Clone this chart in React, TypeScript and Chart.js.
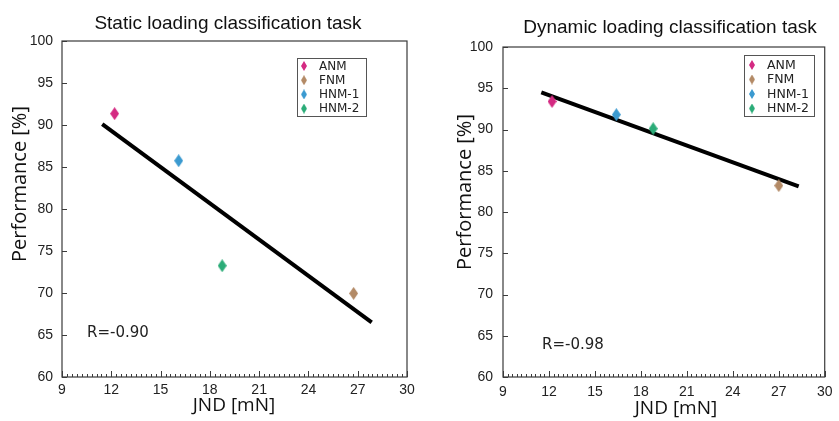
import React, { useEffect, useRef } from 'react';
import { Chart, registerables } from 'chart.js';

Chart.register(...registerables);

// ---------- data ----------
const groups = ['ANM', 'FNM', 'HNM-1', 'HNM-2'];
const groupColors = ['#d42a82', '#b38a66', '#3b9ad0', '#2bac78'];

const xTicks = [9, 12, 15, 18, 21, 24, 27, 30];
const yTicks = [60, 65, 70, 75, 80, 85, 90, 95, 100];

const staticJnd = [12.2, 26.75, 16.1, 18.75];
const staticPerf = [91.35, 69.95, 85.75, 73.25];
const staticFitJnd = [11.45, 27.85];
const staticFitPerf = [90.1, 66.5];
const staticR = 'R=-0.90';
const staticTitle = 'Static loading classification task';

const dynamicJnd = [12.2, 27.0, 16.4, 18.8];
const dynamicPerf = [93.4, 83.2, 91.8, 90.1];
const dynamicFitJnd = [11.5, 28.3];
const dynamicFitPerf = [94.5, 83.1];
const dynamicR = 'R=-0.98';
const dynamicTitle = 'Dynamic loading classification task';

const xTitle = 'JND [mN]';
const yTitle = 'Performance [%]';

// ---------- layout (positions only) ----------
type Layout = {
  left: number; width: number; height: number;
  plotLeft: number; plotRight: number; plotTop: number; plotBottom: number;
  yPad: number; xPad: number;
  titleX: number; titleY: number;
  xTitleX: number; xTitleY: number;
  yTitleX: number; yTitleY: number;
  rX: number; rY: number;
  legX: number; legY: number; legW: number; legH: number;
  legRow0: number; legDy: number; legMarkX: number; legTextX: number; legFont: number;
};

const leftLayout: Layout = {
  left: 0, width: 420, height: 421,
  plotLeft: 62, plotRight: 407, plotTop: 41, plotBottom: 377,
  yPad: 9, xPad: 4.5,
  titleX: 228, titleY: 28.5,
  xTitleX: 234, xTitleY: 411,
  yTitleX: 26, yTitleY: 184,
  rX: 87, rY: 333,
  legX: 297, legY: 58, legW: 69, legH: 58,
  legRow0: 66, legDy: 14.2, legMarkX: 304, legTextX: 319, legFont: 12,
};

const rightLayout: Layout = {
  left: 420, width: 419, height: 421,
  plotLeft: 83, plotRight: 409, plotTop: 47, plotBottom: 377,
  yPad: 10, xPad: 6.5,
  titleX: 250, titleY: 33,
  xTitleX: 256, xTitleY: 414,
  yTitleX: 51, yTitleY: 192,
  rX: 122, rY: 345,
  legX: 324, legY: 55, legW: 70, legH: 61,
  legRow0: 65, legDy: 14.5, legMarkX: 332, legTextX: 347, legFont: 12.5,
};

function diamond(color: string, w: number, h: number): HTMLCanvasElement {
  const c = document.createElement('canvas');
  c.width = w;
  c.height = h;
  const ctx = c.getContext('2d')!;
  ctx.fillStyle = color;
  ctx.beginPath();
  ctx.moveTo(w / 2, 0);
  ctx.lineTo(w, h / 2);
  ctx.lineTo(w / 2, h);
  ctx.lineTo(0, h / 2);
  ctx.closePath();
  ctx.fill();
  return c;
}

function makeDecor(L: Layout, title: string, rText: string) {
  return {
    id: 'decor',
    afterDraw(chart: any) {
      const ctx: CanvasRenderingContext2D = chart.ctx;
      const ca = chart.chartArea;
      const xs = chart.scales.x;
      const ys = chart.scales.y;
      ctx.save();
      // frame
      ctx.strokeStyle = '#3a3a3a';
      ctx.lineWidth = 1.2;
      ctx.strokeRect(ca.left, ca.top, ca.right - ca.left, ca.bottom - ca.top);
      // y major ticks (inward)
      ctx.beginPath();
      yTicks.forEach((v) => {
        const py = Math.round(ys.getPixelForValue(v)) + 0.5;
        ctx.moveTo(ca.left, py);
        ctx.lineTo(ca.left + 5, py);
      });
      // x major + minor ticks
      const step = xTicks[1] - xTicks[0];
      const minor = step / 10;
      const n = Math.round((xTicks[xTicks.length - 1] - xTicks[0]) / minor);
      for (let k = 0; k <= n; k++) {
        const v = xTicks[0] + k * minor;
        const px = Math.round(xs.getPixelForValue(v)) + 0.5;
        const len = k % 10 === 0 ? 6 : 3;
        ctx.moveTo(px, ca.bottom);
        ctx.lineTo(px, ca.bottom - len);
      }
      ctx.lineWidth = 1;
      ctx.stroke();

      // title
      ctx.fillStyle = '#111';
      ctx.font = '19px "Liberation Sans", Arial, sans-serif';
      ctx.textAlign = 'center';
      ctx.textBaseline = 'alphabetic';
      ctx.fillText(title, L.titleX, L.titleY);

      // axis titles
      ctx.font = '19px "Open Sans", sans-serif';
      ctx.fillText(xTitle, L.xTitleX, L.xTitleY);
      ctx.save();
      ctx.translate(L.yTitleX, L.yTitleY);
      ctx.rotate(-Math.PI / 2);
      ctx.font = '20px "Open Sans", sans-serif';
      ctx.fillText(yTitle, 0, 0);
      ctx.restore();

      // R text
      ctx.font = '15px "DejaVu Sans", sans-serif';
      ctx.textAlign = 'left';
      ctx.textBaseline = 'middle';
      ctx.fillStyle = '#222';
      ctx.fillText(rText, L.rX, L.rY);

      // legend
      ctx.fillStyle = '#fff';
      ctx.fillRect(L.legX, L.legY, L.legW, L.legH);
      ctx.strokeStyle = '#555';
      ctx.lineWidth = 1;
      ctx.strokeRect(L.legX + 0.5, L.legY + 0.5, L.legW, L.legH);
      ctx.font = `${L.legFont}px "DejaVu Sans", sans-serif`;
      groups.forEach((g, i) => {
        const y = L.legRow0 + i * L.legDy;
        const m = diamond(groupColors[i], 6, 10);
        ctx.drawImage(m, L.legMarkX - 3, y - 5);
        ctx.fillStyle = '#222';
        ctx.fillText(g, L.legTextX, y + 0.5);
      });
      ctx.restore();
    },
  };
}

function Panel({ L, jnd, perf, fitX, fitY, title, rText }: {
  L: Layout; jnd: number[]; perf: number[]; fitX: number[]; fitY: number[]; title: string; rText: string;
}) {
  const ref = useRef<HTMLCanvasElement>(null);
  useEffect(() => {
    const canvas = ref.current!;
    const pointDatasets = groups.map((g, i) => ({
      label: g,
      data: [{ x: jnd[i], y: perf[i] }],
      pointStyle: diamond(groupColors[i], 9, 13) as any,
      backgroundColor: groupColors[i],
      borderColor: groupColors[i],
      pointRadius: 6,
      showLine: false,
    }));
    const fitDataset = {
      label: 'fit',
      data: fitX.map((x, i) => ({ x, y: fitY[i] })),
      showLine: true,
      borderColor: '#000',
      borderWidth: 4,
      pointRadius: 0,
      borderCapStyle: 'butt' as const,
      backgroundColor: '#000',
    };
    const fontTicks = { family: '"Liberation Sans", Arial, sans-serif', size: 14 };
    const chart = new Chart(canvas, {
      type: 'scatter',
      data: { datasets: [...pointDatasets, fitDataset] as any },
      plugins: [makeDecor(L, title, rText)],
      options: {
        responsive: false,
        animation: false,
        events: [],
        layout: {
          padding: { left: 0, top: L.plotTop, right: L.width - L.plotRight, bottom: 0 },
        },
        plugins: { legend: { display: false }, title: { display: false }, tooltip: { enabled: false } },
        scales: {
          x: {
            type: 'linear',
            min: xTicks[0],
            max: xTicks[xTicks.length - 1],
            afterBuildTicks: (s: any) => { s.ticks = xTicks.map((v) => ({ value: v })); },
            grid: { display: false, drawTicks: false },
            border: { display: false },
            ticks: { padding: L.xPad, color: '#222', font: fontTicks, maxRotation: 0, autoSkip: false },
            afterFit: (s: any) => { s.height = L.height - L.plotBottom; },
          },
          y: {
            type: 'linear',
            min: yTicks[0],
            max: yTicks[yTicks.length - 1],
            afterBuildTicks: (s: any) => { s.ticks = yTicks.map((v) => ({ value: v })); },
            grid: { display: false, drawTicks: false },
            border: { display: false },
            ticks: { padding: L.yPad, color: '#222', font: fontTicks, autoSkip: false },
            afterFit: (s: any) => { s.width = L.plotLeft; },
          },
        },
      } as any,
    });
    return () => chart.destroy();
  }, []);
  return (
    <canvas
      ref={ref}
      width={L.width}
      height={L.height}
      style={{ position: 'absolute', left: L.left, top: 0, width: L.width, height: L.height, display: 'block' }}
    />
  );
}

export default function App() {
  return (
    <div style={{ position: 'absolute', left: 0, top: 0, width: 839, height: 421, background: '#fff', overflow: 'hidden' }}>
      <Panel L={leftLayout} jnd={staticJnd} perf={staticPerf} fitX={staticFitJnd} fitY={staticFitPerf} title={staticTitle} rText={staticR} />
      <Panel L={rightLayout} jnd={dynamicJnd} perf={dynamicPerf} fitX={dynamicFitJnd} fitY={dynamicFitPerf} title={dynamicTitle} rText={dynamicR} />
    </div>
  );
}
